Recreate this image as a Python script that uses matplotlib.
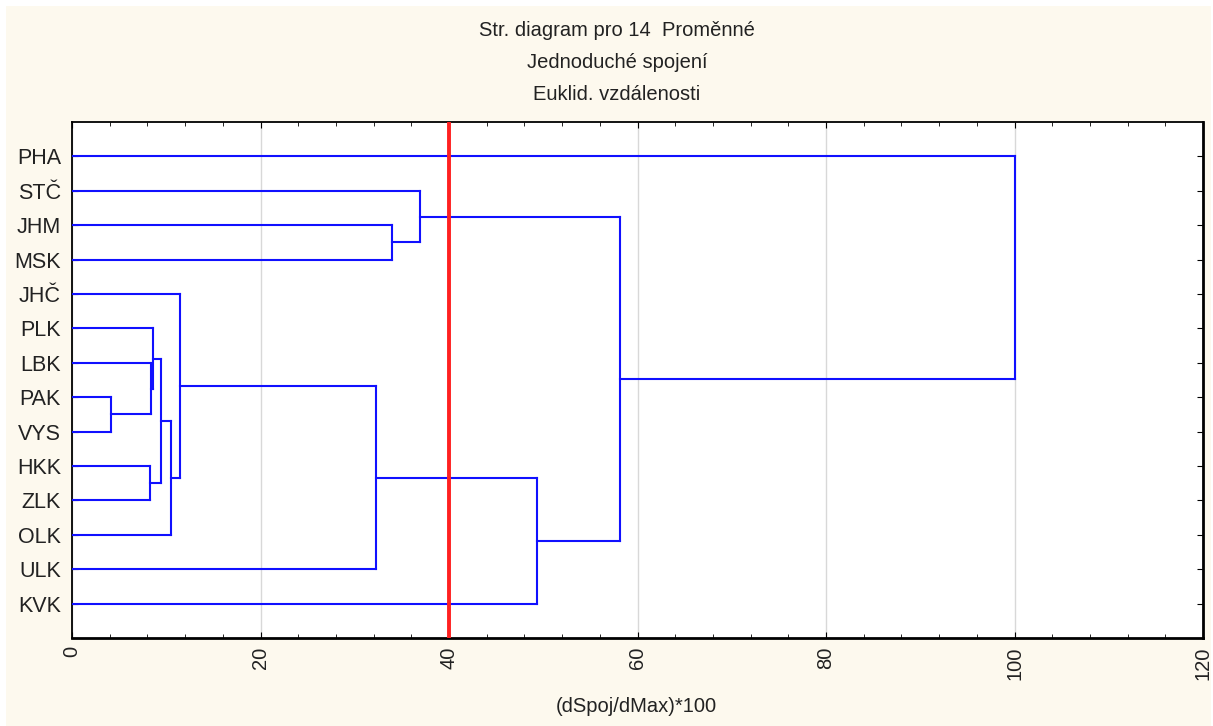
import matplotlib.pyplot as plt
from matplotlib.patches import Rectangle
from matplotlib.ticker import MultipleLocator
import numpy as np

plt.rcParams['font.family'] = ['Liberation Sans', 'DejaVu Sans']

# listy (odshora dolu)
labels = ['PHA', 'STČ', 'JHM', 'MSK', 'JHČ', 'PLK', 'LBK', 'PAK', 'VYS',
          'HKK', 'ZLK', 'OLK', 'ULK', 'KVK']

# spojeni ve stylu linkage: indexy 0..13 jsou listy, 14+ shluky
merge_left = [7, 6, 5, 9, 16, 18, 4, 20, 2, 1, 21, 23, 0]
merge_right = [8, 14, 15, 10, 17, 11, 19, 12, 3, 22, 13, 24, 25]
merge_height = [4.1, 8.35, 8.55, 8.3, 9.45, 10.5, 11.45, 32.25, 33.95, 36.9, 49.3, 58.1, 100.0]

cut_level = 40

title_lines = ['Str. diagram pro 14  Proměnné', 'Jednoduché spojení', 'Euklid. vzdálenosti']
xlabel = '(dSpoj/dMax)*100'

W, H = 1213, 726
fig = plt.figure(figsize=(W / 100, H / 100), dpi=100, facecolor='white')
fig.patches.append(Rectangle((6 / W, 0), 1 - 8 / W, 1 - 6 / H, transform=fig.transFigure,
                             facecolor='#fdf9ee', edgecolor='none', zorder=-10))
ax = fig.add_axes([72 / W, 1 - 638 / H, (1203 - 72) / W, (638 - 122) / H])
ax.set_facecolor('white')

# souradnice uzlu
n = len(labels)
ypos = {i: i + 1 for i in range(n)}
xpos = {i: 0.0 for i in range(n)}
for k, (a, b, h) in enumerate(zip(merge_left, merge_right, merge_height)):
    node = n + k
    col = '#1010ff'
    ax.plot([xpos[a], h], [ypos[a], ypos[a]], color=col, lw=1.5, zorder=3)
    ax.plot([xpos[b], h], [ypos[b], ypos[b]], color=col, lw=1.5, zorder=3)
    ax.plot([h, h], [ypos[a], ypos[b]], color=col, lw=1.5, zorder=3)
    xpos[node] = h
    ypos[node] = (ypos[a] + ypos[b]) / 2

ax.axvline(cut_level, color='#ff2020', lw=2.8, zorder=4)

ax.set_xlim(0, 120)
ax.set_ylim(n + 1, 0)
ax.xaxis.set_major_locator(MultipleLocator(20))
ax.xaxis.set_minor_locator(MultipleLocator(4))
ax.grid(axis='x', which='major', color='#d8d8d8', lw=1, zorder=0)
ax.set_yticks(range(1, n + 1))
ax.set_yticklabels(labels, fontsize=15.5, color='#222222')
ax.tick_params(axis='x', which='both', direction='in', top=True, labelsize=14.5,
               labelrotation=90, pad=6)
ax.tick_params(axis='x', which='major', length=4)
ax.tick_params(axis='x', which='minor', length=3)
ax.tick_params(axis='y', direction='in', right=True, length=4, pad=8)
for lab in ax.get_xticklabels():
    lab.set_color('#222222')
for s in ax.spines.values():
    s.set_linewidth(1.3)
ax.spines['right'].set_linewidth(2)
ax.spines['bottom'].set_linewidth(2)

for i, t in enumerate(title_lines):
    fig.text(617 / W, 1 - (31 + 31.5 * i) / H, t, ha='center', va='center',
             fontsize=14.5, color='#222222')
fig.text(636 / W, 1 - 707 / H, xlabel, ha='center', va='center', fontsize=14.5,
         color='#222222')

fig.savefig('out.png', dpi=100, facecolor=fig.get_facecolor())
